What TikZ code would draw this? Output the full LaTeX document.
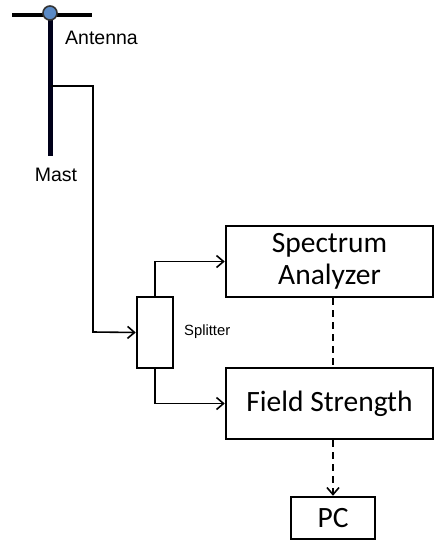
\documentclass[tikz,border=0pt]{standalone}
\usepackage{fontspec}
\setmainfont{Liberation Sans}
\newfontfamily\calib{Carlito}
\usetikzlibrary{arrows.meta}
\definecolor{ballblue}{HTML}{5A8AC6}
\begin{document}
\begin{tikzpicture}[x=1pt,y=-1pt,
  box/.style={draw=black,line width=2.5pt,inner sep=0pt,font=\calib\fontsize{29.5}{32}\selectfont,align=center},
  conn/.style={draw=black,line width=1.6pt,-{Straight Barb[length=7pt,width=12pt,line width=1.6pt]}},
  dconn/.style={conn,dash pattern=on 7pt off 5pt},
  lbl/.style={inner sep=0pt,font=\fontsize{19.5}{22}\selectfont},
  slbl/.style={inner sep=0pt,font=\fontsize{14.8}{17}\selectfont}]
\useasboundingbox (0,0) rectangle (435,543);
% antenna and mast
\draw[line width=4pt] (12,15) -- (92,15);
\draw[line width=5pt,draw=black!90!blue] (50,15) coordinate (mtop) -- (50,156) coordinate (mbot);
\node[circle,draw=black!80,line width=1.6pt,fill=ballblue,minimum size=14pt,inner sep=0pt] (ball) at (50,13) {};
\coordinate (tap) at (51,86);
\node[lbl,anchor=west] (ant) at (65,38) {Antenna};
\node[lbl] (mast) at (56,175) {Mast};
% boxes
\node[draw=black,line width=2.5pt,minimum width=36pt,minimum height=71pt,inner sep=0pt] (split) at (155,332.5) {};
\node[slbl,anchor=west] (splitl) at (184,332) {Splitter};
\node[box,minimum width=207pt,minimum height=71pt] (sa) at (329.5,261.5) {Spectrum\\Analyzer};
\node[box,minimum width=207pt,minimum height=71pt] (fs) at (329.5,403.5) {Field Strength};
\node[box,minimum width=84pt,minimum height=42pt] (pc) at (333,518) {PC};
% connectors
\draw[conn] (tap) -| (93,332) -- (split.west);
\draw[conn] (split.north) |- (sa.west);
\draw[conn] (split.south) |- (fs.west);
\draw[dconn,-] (sa.south -| 333,0) -- (fs.north -| 333,0);
\draw[dconn] (fs.south -| 333,0) -- (pc.north);
\end{tikzpicture}
\end{document}
